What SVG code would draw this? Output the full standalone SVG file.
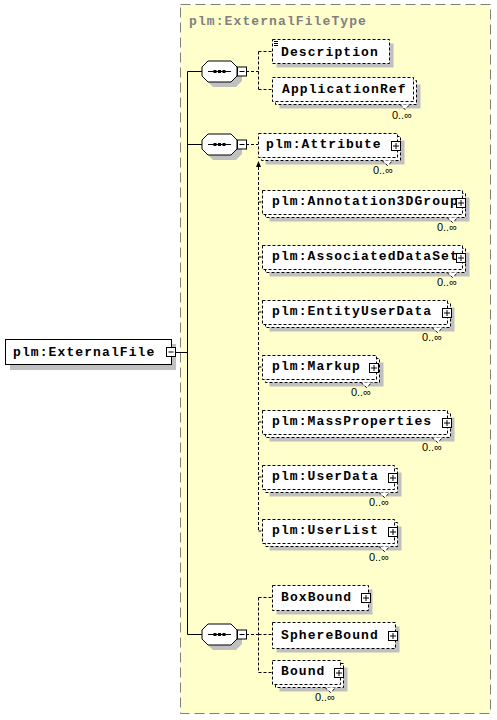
<svg xmlns="http://www.w3.org/2000/svg" width="497" height="720" viewBox="0 0 497 720">
<style>
.t{font-family:"Liberation Mono",monospace;font-weight:bold;font-size:13px;letter-spacing:1.1px;fill:#000}
.title{font-family:"Liberation Mono",monospace;font-weight:bold;font-size:13px;letter-spacing:1.1px;fill:#808080}
.occ{font-family:"Liberation Sans",sans-serif;font-size:11px;fill:#000;text-anchor:end}
.box{fill:#fff;stroke:#000;stroke-width:1;stroke-dasharray:3,2}
.solid{fill:#fff;stroke:#000;stroke-width:1}
.sh{fill:#c0c0c0;stroke:none}
.ln{fill:none;stroke:#000;stroke-width:1}
.dl{fill:none;stroke:#000;stroke-width:1;stroke-dasharray:3,2}
.ic{fill:#fff;stroke:#000;stroke-width:1}
</style>
<defs>
<g id="oct">
<polygon class="sh" points="11,5 34,5 40,11 40,20 34,26 11,26 5,20 5,11"/>
<polygon class="solid" points="6,0 29,0 35,6 35,15 29,21 6,21 0,15 0,6"/>
<line x1="6" y1="10.5" x2="29" y2="10.5" class="ln"/>
<rect x="11.5" y="9" width="3" height="3" fill="#000"/>
<rect x="16" y="9" width="3" height="3" fill="#000"/>
<rect x="20.5" y="9" width="3" height="3" fill="#000"/>
<rect x="35.5" y="6" width="9" height="9" class="ic"/>
<line x1="37.5" y1="10.5" x2="42.5" y2="10.5" class="ln"/>
</g>
<g id="plus">
<rect x="0.5" y="0.5" width="9" height="9" class="ic"/>
<line x1="2" y1="5" x2="8" y2="5" class="ln"/>
<line x1="5" y1="2" x2="5" y2="8" class="ln"/>
</g>
</defs>

<rect x="180.5" y="4.5" width="310" height="709" fill="#ffffcc" stroke="#808080" stroke-width="1" stroke-dasharray="10,5"/>
<text class="title" x="189" y="25">plm:ExternalFileType</text>

<g id="connectors">
<path class="ln" d="M176 352.5H187.5M187.5 71.5V634.5M187.5 71.5H202M187.5 144.5H202M187.5 634.5H202"/>
<path class="dl" d="M246 71.5H258.5M258.5 51.5V89.5M258.5 51.5H272M258.5 89.5H272"/>
<path class="dl" d="M246 144.5H258M258.5 167V531"/>
<path class="dl" d="M258.5 202H262M258.5 257H262M258.5 312H262M258.5 367H262M258.5 422H262M258.5 477H262M258.5 531H262"/>
<polygon points="256,167 258.5,161 261,167" fill="#000"/>
<path class="ln" d="M260.5 155.5L265 151"/>
<polygon points="266,150 262,151.5 264.5,154" fill="#000"/>
<path class="dl" d="M246 634.5H258.5M258.5 597.5V672.5M258.5 597.5H272M258.5 634.5H272M258.5 672.5H272"/>
</g>

<g id="root">
<rect class="sh" x="10" y="344" width="166" height="26"/>
<rect class="solid" x="5.5" y="339.5" width="166" height="25"/>
<text class="t" x="13" y="356">plm:ExternalFile</text>
<rect x="166.5" y="347.5" width="9" height="9" class="ic"/>
<line x1="168.5" y1="352" x2="173.5" y2="352" class="ln"/>
</g>

<g id="seq1" transform="translate(202,61)"><use href="#oct"/></g>
<g id="seq2" transform="translate(202,134)"><use href="#oct"/></g>
<g id="seq3" transform="translate(202,624)"><use href="#oct"/></g>

<g id="Description" transform="translate(272,39)">
<rect class="sh" x="4.5" y="4.5" width="117" height="24"/>
<rect class="box" x="0.5" y="0.5" width="117" height="24"/>
<path class="ln" d="M2 2.5H6M2 4.5H6M2 6.5H6"/>
<text class="t" x="9" y="16.5">Description</text>
</g>

<g id="ApplicationRef" transform="translate(272,77)">
<rect class="sh" x="7.5" y="7.5" width="141" height="24"/>
<rect class="box" x="3.5" y="3.5" width="141" height="24"/>
<rect class="box" x="0.5" y="0.5" width="141" height="24"/>
<path class="box" d="M128 27.5L133 32.5L138 27.5"/>
<text class="t" x="10" y="16">ApplicationRef</text>
<text class="occ" x="140" y="42">0..∞</text>
</g>

<g id="Attribute" transform="translate(258,133)">
<rect class="sh" x="7.5" y="7.5" width="139" height="24"/>
<rect class="box" x="3.5" y="3.5" width="139" height="24"/>
<rect class="box" x="0.5" y="0.5" width="139" height="24"/>
<path class="box" d="M124 27.5L129.5 32.5L135 27.5"/>
<text class="t" x="8" y="15">plm:Attribute</text>
<use href="#plus" x="133" y="8"/>
<text class="occ" x="135" y="41">0..∞</text>
</g>

<g id="Annotation3DGroup" transform="translate(262,190)">
<rect class="sh" x="7.5" y="7.5" width="200" height="24"/>
<rect class="box" x="3.5" y="3.5" width="200" height="24"/>
<rect class="box" x="0.5" y="0.5" width="200" height="24"/>
<path class="box" d="M185 27.5L190.5 32.5L196 27.5"/>
<text class="t" x="10" y="15">plm:Annotation3DGroup</text>
<use href="#plus" x="194" y="8"/>
<text class="occ" x="195" y="41">0..∞</text>
</g>

<g id="AssociatedDataSet" transform="translate(262,245)">
<rect class="sh" x="7.5" y="7.5" width="200" height="24"/>
<rect class="box" x="3.5" y="3.5" width="200" height="24"/>
<rect class="box" x="0.5" y="0.5" width="200" height="24"/>
<path class="box" d="M185 27.5L190.5 32.5L196 27.5"/>
<text class="t" x="10" y="15">plm:AssociatedDataSet</text>
<use href="#plus" x="194" y="8"/>
<text class="occ" x="195" y="41">0..∞</text>
</g>

<g id="EntityUserData" transform="translate(262,300)">
<rect class="sh" x="7.5" y="7.5" width="185" height="24"/>
<rect class="box" x="3.5" y="3.5" width="185" height="24"/>
<rect class="box" x="0.5" y="0.5" width="185" height="24"/>
<path class="box" d="M170 27.5L175.5 32.5L181 27.5"/>
<text class="t" x="10" y="15">plm:EntityUserData</text>
<use href="#plus" x="180" y="8"/>
<text class="occ" x="180" y="41">0..∞</text>
</g>

<g id="Markup" transform="translate(262,355)">
<rect class="sh" x="7.5" y="7.5" width="114" height="24"/>
<rect class="box" x="3.5" y="3.5" width="114" height="24"/>
<rect class="box" x="0.5" y="0.5" width="114" height="24"/>
<path class="box" d="M99 27.5L104.5 32.5L110 27.5"/>
<text class="t" x="10" y="15">plm:Markup</text>
<use href="#plus" x="107" y="8"/>
<text class="occ" x="109" y="41">0..∞</text>
</g>

<g id="MassProperties" transform="translate(262,410)">
<rect class="sh" x="7.5" y="7.5" width="185" height="24"/>
<rect class="box" x="3.5" y="3.5" width="185" height="24"/>
<rect class="box" x="0.5" y="0.5" width="185" height="24"/>
<path class="box" d="M170 27.5L175.5 32.5L181 27.5"/>
<text class="t" x="10" y="15">plm:MassProperties</text>
<use href="#plus" x="180" y="8"/>
<text class="occ" x="180" y="41">0..∞</text>
</g>

<g id="UserData" transform="translate(262,465)">
<rect class="sh" x="7.5" y="7.5" width="132" height="24"/>
<rect class="box" x="3.5" y="3.5" width="132" height="24"/>
<rect class="box" x="0.5" y="0.5" width="132" height="24"/>
<path class="box" d="M117 27.5L122.5 32.5L128 27.5"/>
<text class="t" x="10" y="15">plm:UserData</text>
<use href="#plus" x="126" y="8"/>
<text class="occ" x="127" y="41">0..∞</text>
</g>

<g id="UserList" transform="translate(262,519)">
<rect class="sh" x="7.5" y="7.5" width="132" height="24"/>
<rect class="box" x="3.5" y="3.5" width="132" height="24"/>
<rect class="box" x="0.5" y="0.5" width="132" height="24"/>
<path class="box" d="M117 27.5L122.5 32.5L128 27.5"/>
<text class="t" x="10" y="15">plm:UserList</text>
<use href="#plus" x="126" y="8"/>
<text class="occ" x="127" y="42">0..∞</text>
</g>

<g id="BoxBound" transform="translate(272,585)">
<rect class="sh" x="4.5" y="4.5" width="96" height="25"/>
<rect class="box" x="0.5" y="0.5" width="96" height="25"/>
<text class="t" x="9" y="16">BoxBound</text>
<use href="#plus" x="89" y="8"/>
</g>

<g id="SphereBound" transform="translate(272,622)">
<rect class="sh" x="4.5" y="4.5" width="123" height="26"/>
<rect class="box" x="0.5" y="0.5" width="123" height="26"/>
<text class="t" x="9" y="17">SphereBound</text>
<use href="#plus" x="116" y="9"/>
</g>

<g id="Bound" transform="translate(272,660)">
<rect class="sh" x="7.5" y="7.5" width="68" height="24"/>
<rect class="box" x="3.5" y="3.5" width="68" height="24"/>
<rect class="box" x="0.5" y="0.5" width="68" height="24"/>
<path class="box" d="M53 27.5L58.5 32.5L64 27.5"/>
<text class="t" x="9" y="15">Bound</text>
<use href="#plus" x="62" y="8"/>
<text class="occ" x="63" y="41">0..∞</text>
</g>
</svg>
